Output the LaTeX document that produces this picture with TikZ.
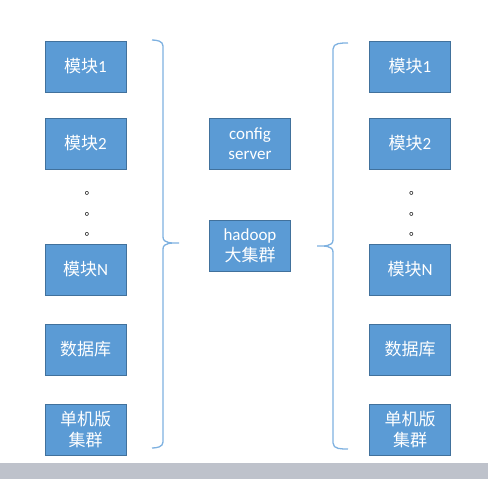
\documentclass[tikz,border=0pt]{standalone}
\usepackage{fontspec}
\setmainfont{Carlito}
\newfontfamily\cjk{Noto Sans CJK SC}
\definecolor{boxfill}{HTML}{5B9BD5}
\definecolor{boxline}{HTML}{41719C}
\definecolor{braceblue}{HTML}{7EB1E0}
\definecolor{bargray}{HTML}{BEC2CB}
\tikzset{
  modbox/.style={draw=boxline, line width=1pt, fill=boxfill, text=white,
    minimum width=81pt, minimum height=51pt, inner sep=0pt, align=center},
  braceline/.style={draw=braceblue, line width=1.3pt},
  dotmark/.style={inner sep=0pt, font=\fontsize{12}{12}\selectfont\cjk}
}
\begin{document}
\begin{tikzpicture}[x=1pt, y=-1pt, font=\fontsize{17}{20.5}\selectfont]
  \useasboundingbox (0,0) rectangle (488,479);

  % Grey bar at the bottom
  \fill[bargray] (0,463) rectangle (488,479);

  % Module columns on both sides
  \foreach \side/\x in {L/85.5, R/410} {
    \node[modbox] (\side m1) at (\x,66.5) {{\cjk 模块}1};
    \node[modbox] (\side m2) at (\x,143.5) {{\cjk 模块}2};
    \node[modbox] (\side mN) at (\x,269.5) {{\cjk 模块}N};
    \node[modbox] (\side db) at (\x,349.5) {\cjk 数据库};
    \node[modbox] (\side single) at (\x,429.5) {\cjk 单机版\\\cjk 集群};
    % Vertical dots
    \foreach \y [count=\i] in {192,213,233} {
      \node[dotmark] (\side dot\i) at (\x+5,\y+1) {。};
    }
  }

  % Middle column
  \node[modbox] (config) at (250,143.5) {config\\server};
  \node[modbox] (hadoop) at (250,246) {hadoop\\\cjk 大集群};

  % Left brace
  \draw[braceline] (152,40) to[out=0,in=90] (163,46) -- (163,237)
    to[out=-90,in=180] (179,243) to[out=180,in=90] (163,249) -- (163,442)
    to[out=-90,in=0] (152,448);

  % Right brace
  \draw[braceline] (348,43) to[out=180,in=90] (333,49) -- (333,240)
    to[out=-90,in=0] (317,246) to[out=0,in=90] (333,252) -- (333,443)
    to[out=-90,in=180] (348,449);
\end{tikzpicture}
\end{document}
